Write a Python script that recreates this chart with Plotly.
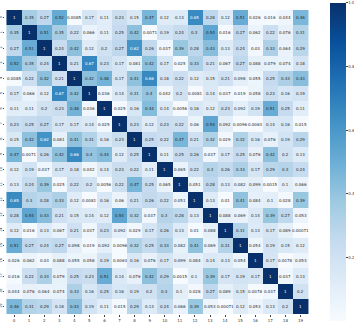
import plotly.graph_objects as go
from plotly.colors import sample_colorscale

labels = [str(i) for i in range(20)]
matrix = [
 [1,.35,.27,.52,.0085,.17,.11,.23,.15,.47,.12,.13,.65,.28,.12,.51,.026,.016,.044,.46],
 [.35,1,.51,.35,.22,.066,.11,.25,.42,.0071,.19,.24,.3,.54,.016,.27,.062,.22,.076,.31],
 [.27,.51,1,.24,.42,.12,.2,.27,.62,.26,.037,.39,.28,.43,.13,.24,.03,.33,.064,.29],
 [.52,.35,.24,1,.21,.67,.23,.17,.081,.42,.17,.025,.33,.21,.067,.27,.088,.079,.074,.18],
 [.0085,.22,.42,.21,1,.42,.48,.17,.41,.66,.18,.22,.12,.15,.21,.098,.055,.25,.33,.43],
 [.17,.066,.12,.67,.42,1,.036,.14,.31,.4,.042,.2,.0081,.14,.037,.019,.058,.23,.16,.19],
 [.11,.11,.2,.23,.48,.036,1,.025,.16,.44,.14,.0056,.16,.12,.23,.092,.19,.51,.25,.11],
 [.23,.25,.27,.17,.17,.14,.025,1,.23,.12,.23,.22,.06,.54,.092,.0096,.0063,.14,.16,.015],
 [.15,.42,.62,.081,.41,.31,.16,.23,1,.25,.22,.47,.21,.32,.029,.32,.16,.076,.19,.29],
 [.47,.0071,.26,.42,.66,.4,.44,.12,.25,1,.11,.25,.26,.037,.17,.25,.076,.42,.2,.13],
 [.12,.19,.037,.17,.18,.042,.14,.23,.22,.11,1,.065,.22,.3,.26,.33,.17,.29,.3,.24],
 [.13,.24,.39,.025,.22,.2,.0056,.22,.47,.25,.065,1,.051,.28,.13,.082,.099,.0015,.1,.066],
 [.65,.3,.28,.33,.12,.0081,.16,.06,.21,.26,.22,.051,1,.13,.01,.41,.084,.1,.028,.39],
 [.28,.54,.43,.21,.15,.14,.12,.54,.32,.037,.3,.28,.13,1,.088,.069,.14,.39,.27,.053],
 [.12,.016,.13,.067,.21,.037,.23,.092,.029,.17,.26,.13,.01,.088,1,.31,.13,.17,.089,.00071],
 [.51,.27,.24,.27,.098,.019,.092,.0096,.32,.25,.33,.082,.41,.069,.31,1,.054,.19,.15,.12],
 [.026,.062,.03,.088,.055,.058,.19,.0063,.16,.076,.17,.099,.084,.14,.13,.054,1,.17,.0078,.053],
 [.016,.22,.33,.079,.25,.23,.51,.14,.076,.42,.29,.0015,.1,.39,.17,.19,.17,1,.037,.13],
 [.044,.076,.064,.074,.33,.16,.25,.16,.19,.2,.3,.1,.028,.27,.089,.15,.0078,.037,1,.2],
 [.46,.31,.29,.18,.43,.19,.11,.015,.29,.13,.24,.066,.39,.053,.00071,.12,.053,.13,.2,1],
]
colorbar_ticks = [0.2, 0.4, 0.6, 0.8, 1.0]

W, H = 354, 323
L, R, T, B = 5, 311, 9.5, 314.5
FONT = "DejaVu Sans"

fig = go.Figure(go.Heatmap(
    z=matrix, x=labels, y=labels, colorscale="Blues",
    zmin=0.00071, zmax=1, xgap=0, ygap=0, showscale=True,
    colorbar=dict(
        thickness=16, thicknessmode="pixels", len=318, lenmode="pixels",
        x=330 / W, xanchor="left", xref="container",
        y=1 - 3 / H, yanchor="top", yref="container",
        tickvals=colorbar_ticks, ticktext=["0.2", "0.4", "0.6", "0.8", "1.0"],
        ticks="outside", ticklen=2, tickwidth=0.5, tickcolor="#444",
        tickfont=dict(size=4, family=FONT, color="#333"),
        outlinewidth=0, xpad=0, ypad=0,
    ),
))

def lum(v):
    t = (v - 0.00071) / (1 - 0.00071)
    c = sample_colorscale("Blues", [t], colortype="tuple")[0]
    return 0.2126 * c[0] + 0.7152 * c[1] + 0.0722 * c[2]

for i, row in enumerate(matrix):
    for j, v in enumerate(row):
        fig.add_annotation(
            x=labels[j], y=labels[i], text=f"{v:.2g}", showarrow=False,
            font=dict(size=4, family=FONT, color="white" if lum(v) < 0.55 else "#262626"),
        )

fig.update_xaxes(
    type="category", domain=[0, 1], ticks="outside", ticklen=2, tickwidth=0.5,
    tickcolor="#444", tickfont=dict(size=4, family=FONT, color="#333"),
    showgrid=False, zeroline=False, tickangle=0,
)
fig.update_yaxes(
    type="category", autorange="reversed", ticks="outside", ticklen=1.5, tickwidth=0.5,
    tickcolor="#444", tickfont=dict(size=3.5, family=FONT, color="#333"),
    showgrid=False, zeroline=False, tickangle=-90, ticklabelstandoff=-1,
)
fig.update_layout(
    width=W, height=H, paper_bgcolor="white", plot_bgcolor="white",
    margin=dict(l=L, r=W - R, t=T, b=H - B, autoexpand=False),
    font=dict(family=FONT),
)
fig.write_html("out.html", config={"displayModeBar": False},
               post_script="document.body.style.margin='0';")
